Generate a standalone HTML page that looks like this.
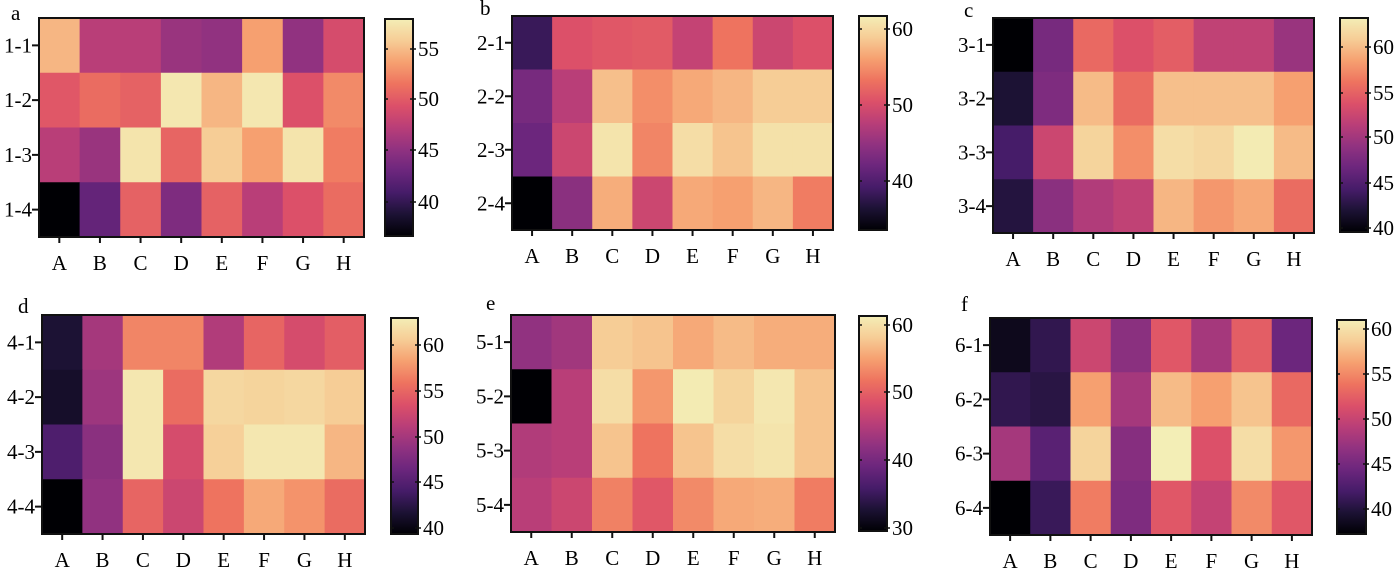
<!DOCTYPE html>
<html><head><meta charset="utf-8"><style>
html,body{margin:0;padding:0;background:#fff;}
svg{display:block;}
text{font-family:"Liberation Serif","Times New Roman","Noto Serif CJK SC","DejaVu Serif",serif;}
</style></head><body>
<svg id="s" width="1395" height="569" xmlns="http://www.w3.org/2000/svg"></svg>
<script>
const stops=[[0,[0,0,4]],[0.1,[28,18,52]],[0.2,[70,28,105]],[0.3,[108,38,125]],[0.4,[145,50,128]],[0.5,[185,62,120]],[0.6,[220,80,105]],[0.7,[238,115,95]],[0.8,[246,160,112]],[0.9,[246,205,150]],[1,[243,238,182]]];
function mag(t){t=Math.max(0,Math.min(1,t));for(let i=1;i<stops.length;i++){if(t<=stops[i][0]){const a=stops[i-1],b=stops[i];const f=(t-a[0])/(b[0]-a[0]);return 'rgb('+a[1].map((v,k)=>Math.round(v+(b[1][k]-v)*f)).join(',')+')';}}}
const P=[
{l:'a',lx:11,ly:20,p:[39,18,364,237],cb:[385,19,413,236],t:[[55,49],[50,99],[45,150],[40,202]],r:1,
v:[[0.85,0.5,0.5,0.42,0.4,0.8,0.4,0.58],[0.62,0.68,0.65,0.98,0.85,0.98,0.6,0.75],[0.5,0.42,0.97,0.66,0.9,0.8,0.97,0.72],[0.0,0.28,0.65,0.35,0.65,0.5,0.6,0.68]]},
{l:'b',lx:480,ly:15,p:[512,16,833,230],cb:[859,16,887,230],t:[[60,29],[50,105],[40,181]],r:2,
v:[[0.17,0.6,0.62,0.63,0.53,0.7,0.55,0.6],[0.33,0.5,0.87,0.76,0.82,0.85,0.9,0.9],[0.3,0.55,0.97,0.74,0.95,0.88,0.96,0.96],[0.0,0.38,0.83,0.55,0.82,0.8,0.85,0.72]]},
{l:'c',lx:964,ly:17,p:[993,18,1314,233],cb:[1340,18,1368,232],t:[[60,47],[55,93],[50,137],[45,183],[40,228]],r:3,
v:[[0.0,0.33,0.67,0.6,0.64,0.52,0.52,0.42],[0.1,0.35,0.86,0.68,0.87,0.87,0.87,0.8],[0.2,0.55,0.92,0.76,0.95,0.93,0.99,0.86],[0.12,0.38,0.48,0.52,0.85,0.78,0.82,0.68]]},
{l:'d',lx:18,ly:313,p:[42,315,365,534],cb:[391,318,418,534],t:[[60,345],[55,391],[50,437],[45,482],[40,528]],r:4,
v:[[0.1,0.45,0.74,0.74,0.48,0.66,0.58,0.64],[0.08,0.43,0.98,0.68,0.93,0.92,0.93,0.9],[0.22,0.38,0.98,0.58,0.91,0.98,0.98,0.85],[0.0,0.4,0.66,0.55,0.7,0.82,0.77,0.68]]},
{l:'e',lx:486,ly:310,p:[511,315,835,532],cb:[859,316,887,531],t:[[60,325],[50,392],[40,460],[30,528]],r:5,
v:[[0.4,0.44,0.9,0.88,0.82,0.86,0.83,0.83],[0.0,0.5,0.95,0.78,0.99,0.92,0.98,0.88],[0.48,0.5,0.88,0.7,0.88,0.95,0.97,0.88],[0.5,0.55,0.73,0.62,0.75,0.82,0.83,0.72]]},
{l:'f',lx:961,ly:311,p:[990,318,1312,535],cb:[1337,320,1366,534],t:[[60,329],[55,374],[50,419],[45,464],[40,509]],r:6,
v:[[0.05,0.15,0.55,0.38,0.62,0.45,0.64,0.3],[0.15,0.13,0.8,0.45,0.86,0.8,0.88,0.67],[0.45,0.25,0.92,0.37,1.0,0.6,0.95,0.78],[0.0,0.17,0.72,0.35,0.62,0.53,0.75,0.62]]}
];
let h='<defs><linearGradient id="g" x1="0" y1="1" x2="0" y2="0">';
for(let i=0;i<=20;i++)h+=`<stop offset="${i/20}" stop-color="${mag(i/20)}"/>`;
h+='</linearGradient></defs>';
const X='ABCDEFGH';
for(const q of P){
 const [x0,y0,x1,y1]=q.p,cw=(x1-x0)/8,ch=(y1-y0)/4;
 h+=`<text x="${q.lx}" y="${q.ly}" font-size="21">${q.l}</text>`;
 for(let r=0;r<4;r++)for(let c=0;c<8;c++)h+=`<rect x="${x0+c*cw}" y="${y0+r*ch}" width="${cw+0.5}" height="${ch+0.5}" fill="${mag(q.v[r][c])}"/>`;
 h+=`<rect x="${x0}" y="${y0}" width="${x1-x0}" height="${y1-y0}" fill="none" stroke="#111" stroke-width="2"/>`;
 for(let r=0;r<4;r++){const y=y0+(r+0.5)*ch;h+=`<line x1="${x0-7}" y1="${y}" x2="${x0}" y2="${y}" stroke="#111" stroke-width="2"/><text x="${x0-7}" y="${y+7}" font-size="21" text-anchor="end">${q.r}-${r+1}</text>`;}
 for(let c=0;c<8;c++){const x=x0+(c+0.5)*cw;h+=`<line x1="${x}" y1="${y1}" x2="${x}" y2="${y1+6}" stroke="#111" stroke-width="2"/><text x="${x}" y="${y1+33}" font-size="21" text-anchor="middle">${X[c]}</text>`;}
 const [a0,b0,a1,b1]=q.cb;
 h+=`<rect x="${a0}" y="${b0}" width="${a1-a0}" height="${b1-b0}" fill="url(#g)" stroke="#111" stroke-width="2"/>`;
 for(const [v,y] of q.t){h+=`<line x1="${a0}" y1="${y}" x2="${a0+3}" y2="${y}" stroke="#111" stroke-width="1.5"/><line x1="${a1-3}" y1="${y}" x2="${a1+3}" y2="${y}" stroke="#111" stroke-width="1.5"/><text x="${a1+5}" y="${y+7}" font-size="21">${v}</text>`;}
}
document.getElementById('s').innerHTML=h;
</script>
</body></html>
